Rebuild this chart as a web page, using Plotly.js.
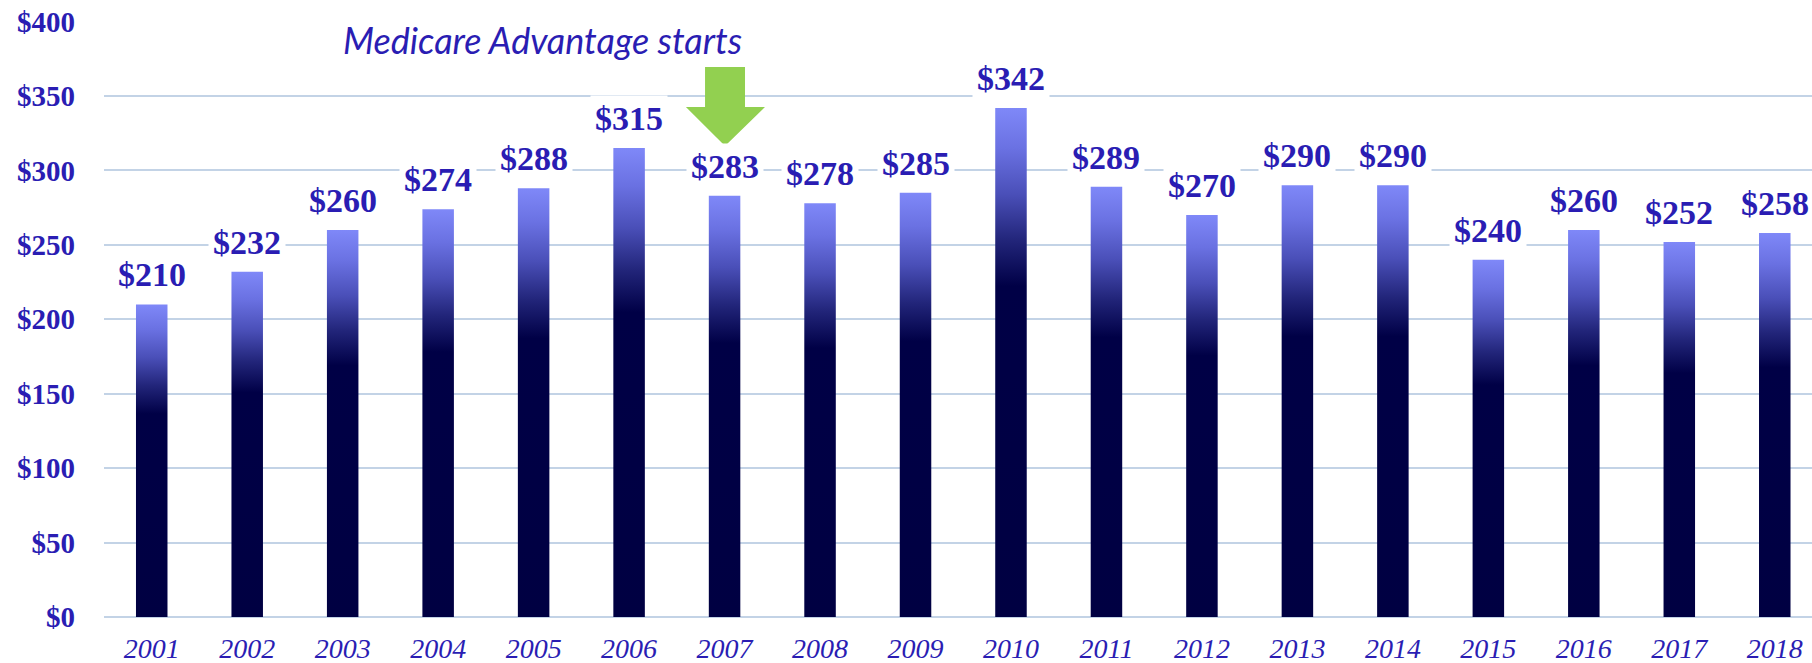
<!DOCTYPE html>
<html>
<head>
<meta charset="utf-8">
<script src="https://cdn.plot.ly/plotly-3.0.1.min.js"></script>
<style>
html,body{margin:0;padding:0;background:#fff;}
#chart{width:1812px;height:663px;}
</style>
</head>
<body>
<div id="chart"></div>
<script>
const years = ["2001","2002","2003","2004","2005","2006","2007","2008","2009","2010","2011","2012","2013","2014","2015","2016","2017","2018"];
const values = [210,232,260,274,288,315,283,278,285,342,289,270,290,290,240,260,252,258];
const valueLabels = ["$210","$232","$260","$274","$288","$315","$283","$278","$285","$342","$289","$270","$290","$290","$240","$260","$252","$258"];
const yTickVals = [0,50,100,150,200,250,300,350,400];
const yTickText = ["$0","$50","$100","$150","$200","$250","$300","$350","$400"];
const noteText = "Medicare Advantage starts";

const textColor = "#2a1db3";
const gridColor = "#c3d3e6";

const trace = {
  type: "bar",
  x: years,
  y: values,
  marker: {color: "#000042", line: {width: 0}},
  width: 0.33,
  hoverinfo: "none"
};

const annotations = years.map((yr, i) => ({
  x: i, y: values[i], xref: "x", yref: "y",
  text: "<b>" + valueLabels[i] + "</b>",
  showarrow: false,
  xanchor: "center",
  yanchor: "bottom",
  yshift: 6,
  bgcolor: "#ffffff",
  borderpad: 4,
  font: {family: "Liberation Serif", size: 34, color: textColor}
}));

annotations.push({
  xref: "paper", yref: "paper",
  x: (542 - 104) / 1708, y: (617 - 40) / 596,
  xanchor: "center", yanchor: "middle",
  text: "<i>" + noteText + "</i>",
  showarrow: false,
  font: {family: "Lato", size: 36, color: textColor}
});

function px(xp){ return ((xp - 104) / 1708).toFixed(4); }
function py(yp){ return ((617 - yp) / 596).toFixed(4); }
const arrowPath = "M " + px(705) + " " + py(67) +
  " L " + px(745) + " " + py(67) +
  " L " + px(745) + " " + py(107) +
  " L " + px(765) + " " + py(107) +
  " L " + px(725) + " " + py(146) +
  " L " + px(686) + " " + py(107) +
  " L " + px(705) + " " + py(107) + " Z";

const layout = {
  width: 1812, height: 663,
  margin: {l: 104, r: 0, t: 21, b: 46},
  paper_bgcolor: "#ffffff",
  plot_bgcolor: "#ffffff",
  showlegend: false,
  xaxis: {
    type: "category",
    range: [-0.5, 17.39],
    showgrid: false,
    showline: false,
    ticks: "",
    ticklabelstandoff: 12,
    tickfont: {family: "Liberation Serif", size: 28, color: textColor, style: "italic"}
  },
  yaxis: {
    range: [0, 400.4],
    tickvals: yTickVals,
    ticktext: yTickText,
    showgrid: true,
    gridcolor: gridColor,
    gridwidth: 2,
    zeroline: true,
    zerolinecolor: gridColor,
    zerolinewidth: 2,
    showline: false,
    ticks: "",
    ticklabelstandoff: 28,
    tickfont: {family: "Liberation Serif", size: 29, color: textColor, weight: "bold"}
  },
  annotations: annotations,
  shapes: [{
    type: "path", xref: "paper", yref: "paper",
    path: arrowPath,
    fillcolor: "#92d050",
    line: {width: 0}
  }]
};

Plotly.newPlot("chart", [trace], layout, {displayModeBar: false, staticPlot: true}).then(function(gd){
  const svg = gd.querySelector("svg.main-svg");
  const ns = "http://www.w3.org/2000/svg";
  let defs = svg.querySelector("defs");
  if (!defs) { defs = document.createElementNS(ns, "defs"); svg.insertBefore(defs, svg.firstChild); }
  const grad = document.createElementNS(ns, "linearGradient");
  grad.setAttribute("id", "barGrad");
  grad.setAttribute("x1", "0"); grad.setAttribute("y1", "0");
  grad.setAttribute("x2", "0"); grad.setAttribute("y2", "1");
  const stops = [[0, "#7f88f8"], [0.08, "#6a71e2"], [0.17, "#4a4fb8"], [0.26, "#22257a"], [0.35, "#000046"], [1, "#000042"]];
  stops.forEach(function(s){
    const st = document.createElementNS(ns, "stop");
    st.setAttribute("offset", s[0]);
    st.setAttribute("stop-color", s[1]);
    grad.appendChild(st);
  });
  defs.appendChild(grad);
  gd.querySelectorAll(".bars .point path").forEach(function(p){
    p.style.fill = "url(#barGrad)";
  });
});
</script>
</body>
</html>
